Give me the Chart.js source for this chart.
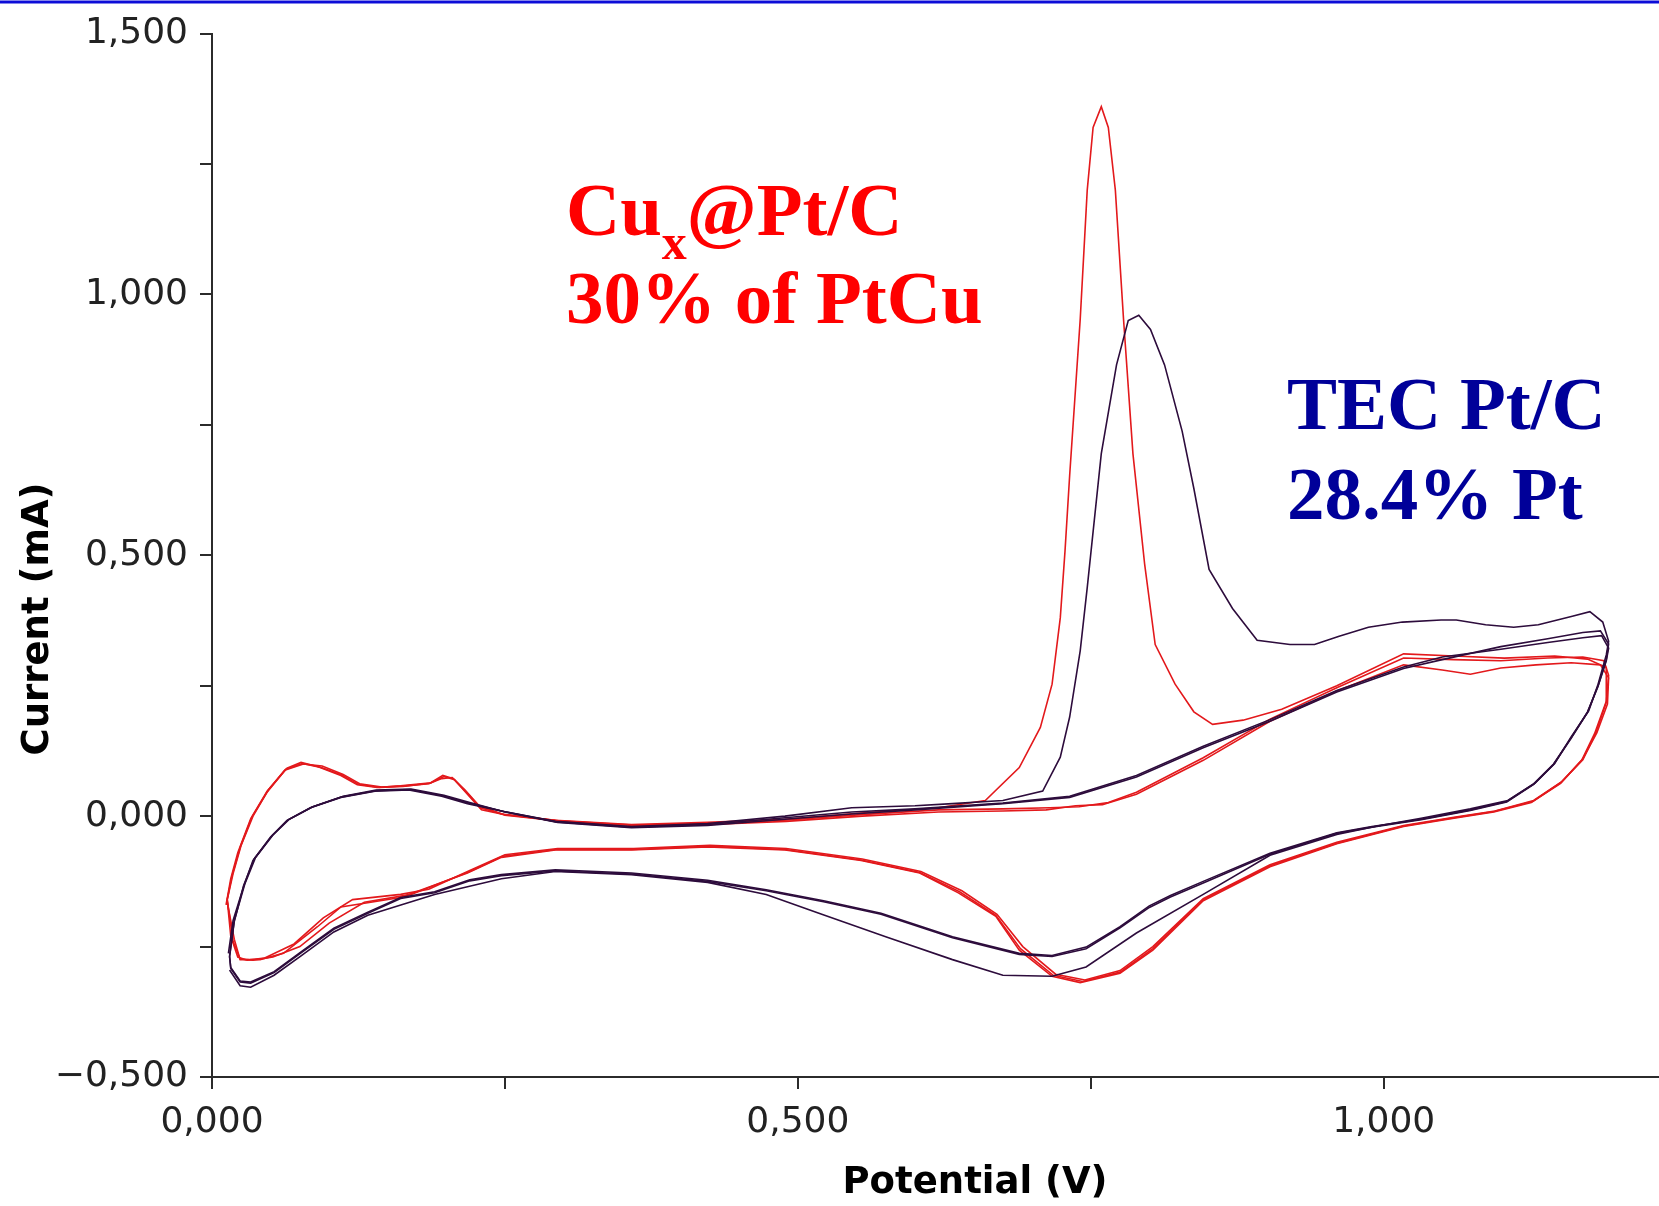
<!DOCTYPE html>
<html>
<head>
<meta charset="utf-8">
<title>CV Cu@Pt/C vs TEC Pt/C</title>
<script src="https://cdn.jsdelivr.net/npm/chart.js@4.4.1/dist/chart.umd.min.js"></script>
<style>
  html, body { margin: 0; padding: 0; background: #fff; }
  #wrap { position: relative; width: 1659px; height: 1206px; }
</style>
</head>
<body>
<div id="wrap"><canvas id="cvChart"></canvas></div>
<script>
// Axis labels
const xLabelValues = [0, 0.5, 1.0];
const xLabelTexts = ['0,000', '0,500', '1,000'];
const yLabelValues = [-0.5, 0, 0.5, 1.0, 1.5];
const yLabelTexts = ['\u22120,500', '0,000', '0,500', '1,000', '1,500'];

// Cu@Pt/C, [potential V, current mA] - first cycle shows the Cu stripping peak
const cuCycle1 = [
  [0.012,-0.170],[0.016,-0.120],[0.022,-0.070],[0.033,-0.005],[0.047,0.048],[0.064,0.092],
  [0.076,0.103],[0.090,0.095],[0.110,0.078],[0.124,0.060],[0.141,0.055],[0.161,0.058],
  [0.187,0.064],[0.198,0.076],[0.207,0.070],[0.218,0.042],[0.230,0.012],[0.247,0.004],
  [0.293,-0.008],[0.358,-0.016],[0.423,-0.012],[0.489,-0.006],[0.554,0.006],[0.620,0.016],
  [0.660,0.030],[0.689,0.093],[0.707,0.170],[0.717,0.253],[0.724,0.380],[0.728,0.507],
  [0.732,0.653],[0.741,0.952],[0.747,1.200],[0.752,1.320],[0.759,1.360],[0.765,1.320],
  [0.771,1.200],[0.778,0.952],[0.786,0.695],[0.796,0.483],[0.805,0.329],[0.822,0.253],
  [0.838,0.200],[0.854,0.176],[0.880,0.184],[0.913,0.205],[0.960,0.250],[1.017,0.311],
  [1.060,0.307],[1.103,0.303],[1.146,0.307],[1.174,0.301],[1.190,0.285],
  [1.190,0.220],[1.180,0.158],[1.169,0.107],[1.151,0.063],[1.126,0.026],[1.094,0.008],
  [1.060,-0.004],[1.017,-0.020],[0.960,-0.053],[0.903,-0.097],[0.846,-0.162],[0.803,-0.257],
  [0.775,-0.301],[0.741,-0.319],[0.717,-0.307],[0.689,-0.257],[0.669,-0.192],[0.637,-0.147],
  [0.604,-0.109],[0.554,-0.085],[0.489,-0.065],[0.423,-0.059],[0.358,-0.065],[0.293,-0.065],
  [0.247,-0.079],[0.218,-0.109],[0.161,-0.156],[0.110,-0.174],[0.090,-0.212],[0.061,-0.263],
  [0.041,-0.275],[0.024,-0.275],[0.019,-0.236],[0.013,-0.165]
];
const cuCycle2 = [
  [0.013,-0.160],[0.018,-0.110],[0.025,-0.055],[0.035,0.000],[0.048,0.050],[0.062,0.088],
  [0.078,0.100],[0.094,0.096],[0.112,0.080],[0.126,0.062],[0.145,0.056],[0.165,0.058],
  [0.185,0.062],[0.196,0.072],[0.205,0.074],[0.216,0.050],[0.228,0.020],[0.250,0.002],
  [0.300,-0.010],[0.360,-0.018],[0.425,-0.016],[0.490,-0.010],[0.555,0.000],[0.620,0.008],
  [0.675,0.010],[0.712,0.012],[0.737,0.020],[0.760,0.022],[0.789,0.042],[0.846,0.107],
  [0.903,0.182],[0.960,0.240],[1.017,0.290],[1.050,0.280],[1.074,0.272],[1.100,0.284],
  [1.130,0.290],[1.160,0.294],[1.185,0.290],[1.192,0.265],
  [1.191,0.215],[1.182,0.160],[1.170,0.110],[1.152,0.066],[1.128,0.030],[1.095,0.010],
  [1.060,-0.002],[1.017,-0.018],[0.960,-0.050],[0.903,-0.093],[0.846,-0.158],[0.803,-0.250],
  [0.775,-0.296],[0.745,-0.314],[0.720,-0.303],[0.692,-0.250],[0.670,-0.188],[0.640,-0.143],
  [0.605,-0.106],[0.555,-0.082],[0.490,-0.062],[0.425,-0.056],[0.360,-0.062],[0.295,-0.062],
  [0.250,-0.074],[0.220,-0.104],[0.185,-0.140],[0.161,-0.150],[0.120,-0.160],[0.095,-0.195],
  [0.070,-0.245],[0.045,-0.272],[0.030,-0.276],[0.022,-0.270],[0.016,-0.230],[0.013,-0.160]
];
const cuCycle3 = [
  [0.013,-0.160],[0.017,-0.115],[0.024,-0.060],[0.034,-0.002],[0.047,0.046],[0.063,0.090],
  [0.077,0.101],[0.092,0.094],[0.111,0.079],[0.125,0.061],[0.143,0.055],[0.163,0.057],
  [0.186,0.063],[0.197,0.078],[0.206,0.072],[0.217,0.046],[0.229,0.016],[0.249,0.003],
  [0.296,-0.009],[0.359,-0.017],[0.424,-0.014],[0.489,-0.008],[0.554,0.003],[0.620,0.012],
  [0.675,0.014],[0.715,0.016],[0.740,0.018],[0.765,0.026],[0.789,0.046],[0.846,0.112],
  [0.903,0.186],[0.960,0.246],[1.017,0.303],[1.060,0.300],[1.100,0.298],[1.140,0.303],
  [1.170,0.305],[1.188,0.298],[1.192,0.270],
  [1.190,0.218],[1.181,0.159],[1.170,0.108],[1.151,0.064],[1.127,0.028],[1.094,0.009],
  [1.060,-0.003],[1.017,-0.019],[0.960,-0.052],[0.903,-0.095],[0.846,-0.160],[0.803,-0.254],
  [0.775,-0.299],[0.743,-0.317],[0.718,-0.305],[0.690,-0.254],[0.669,-0.190],[0.638,-0.145],
  [0.604,-0.108],[0.554,-0.084],[0.489,-0.064],[0.424,-0.058],[0.359,-0.064],[0.294,-0.064],
  [0.248,-0.077],[0.219,-0.107],[0.170,-0.150],[0.130,-0.165],[0.100,-0.205],[0.075,-0.250],
  [0.052,-0.270],[0.035,-0.276],[0.024,-0.274],[0.018,-0.240],[0.013,-0.160]
];

// TEC Pt/C, first cycle has the broader peak
const tecCycle1 = [
  [0.014,-0.263],[0.018,-0.200],[0.027,-0.135],[0.035,-0.085],[0.050,-0.040],[0.064,-0.008],
  [0.084,0.016],[0.110,0.036],[0.139,0.048],[0.168,0.050],[0.196,0.038],[0.218,0.024],
  [0.247,0.010],[0.293,-0.010],[0.358,-0.020],[0.423,-0.014],[0.489,0.000],[0.546,0.016],
  [0.600,0.020],[0.632,0.024],[0.675,0.030],[0.709,0.048],[0.724,0.113],[0.732,0.190],
  [0.741,0.317],[0.747,0.438],[0.759,0.695],[0.772,0.865],[0.782,0.950],[0.791,0.960],
  [0.801,0.933],[0.813,0.865],[0.828,0.738],[0.838,0.628],[0.851,0.473],[0.871,0.398],
  [0.892,0.337],[0.920,0.329],[0.941,0.329],[0.962,0.345],[0.987,0.362],[1.016,0.372],
  [1.049,0.376],[1.062,0.376],[1.087,0.367],[1.111,0.362],[1.132,0.367],[1.161,0.383],
  [1.176,0.392],[1.187,0.372],[1.192,0.335],
  [1.190,0.309],[1.183,0.253],[1.175,0.202],[1.160,0.152],[1.146,0.101],[1.129,0.063],
  [1.106,0.030],[1.074,0.014],[1.032,-0.004],[0.997,-0.018],[0.960,-0.035],[0.903,-0.075],
  [0.846,-0.150],[0.789,-0.224],[0.746,-0.289],[0.717,-0.307],[0.675,-0.305],[0.632,-0.275],
  [0.575,-0.231],[0.518,-0.186],[0.473,-0.150],[0.423,-0.127],[0.358,-0.112],[0.293,-0.106],
  [0.247,-0.120],[0.190,-0.150],[0.133,-0.190],[0.104,-0.222],[0.076,-0.268],[0.053,-0.305],
  [0.033,-0.328],[0.024,-0.325],[0.015,-0.295]
];
const tecCycle2 = [
  [0.015,-0.270],[0.019,-0.200],[0.028,-0.130],[0.037,-0.080],[0.052,-0.036],[0.066,-0.006],
  [0.086,0.018],[0.112,0.038],[0.140,0.050],[0.170,0.052],[0.198,0.040],[0.220,0.026],
  [0.250,0.008],[0.295,-0.012],[0.358,-0.022],[0.423,-0.018],[0.489,-0.006],[0.546,0.004],
  [0.600,0.012],[0.675,0.024],[0.732,0.036],[0.789,0.075],[0.846,0.131],[0.903,0.182],
  [0.960,0.238],[1.017,0.283],[1.050,0.300],[1.100,0.325],[1.140,0.340],[1.170,0.352],
  [1.185,0.355],[1.192,0.330],
  [1.190,0.300],[1.183,0.250],[1.174,0.200],[1.160,0.150],[1.145,0.100],[1.128,0.062],
  [1.105,0.028],[1.074,0.012],[1.032,-0.006],[0.990,-0.020],[0.960,-0.032],[0.903,-0.071],
  [0.846,-0.125],[0.818,-0.152],[0.800,-0.172],[0.775,-0.212],[0.746,-0.251],[0.717,-0.267],
  [0.689,-0.263],[0.632,-0.231],[0.571,-0.186],[0.522,-0.162],[0.473,-0.141],[0.423,-0.123],
  [0.358,-0.109],[0.293,-0.103],[0.247,-0.112],[0.220,-0.122],[0.190,-0.145],[0.161,-0.156],
  [0.133,-0.184],[0.104,-0.215],[0.076,-0.260],[0.053,-0.298],[0.033,-0.318],[0.024,-0.316],
  [0.016,-0.290],[0.015,-0.270]
];
const tecCycle3 = [
  [0.015,-0.268],[0.019,-0.202],[0.027,-0.133],[0.036,-0.082],[0.051,-0.038],[0.065,-0.007],
  [0.085,0.017],[0.111,0.037],[0.141,0.049],[0.169,0.051],[0.197,0.039],[0.219,0.025],
  [0.249,0.009],[0.294,-0.011],[0.358,-0.021],[0.423,-0.016],[0.489,-0.003],[0.546,0.008],
  [0.600,0.014],[0.675,0.025],[0.732,0.038],[0.789,0.078],[0.846,0.134],[0.903,0.185],
  [0.960,0.241],[1.017,0.286],[1.050,0.305],[1.100,0.320],[1.140,0.333],[1.170,0.342],
  [1.186,0.346],[1.192,0.322],
  [1.190,0.298],[1.183,0.249],[1.174,0.199],[1.160,0.149],[1.145,0.099],[1.128,0.061],
  [1.105,0.027],[1.074,0.011],[1.032,-0.007],[0.990,-0.021],[0.960,-0.033],[0.903,-0.073],
  [0.846,-0.128],[0.818,-0.155],[0.800,-0.175],[0.775,-0.214],[0.746,-0.254],[0.717,-0.269],
  [0.689,-0.265],[0.632,-0.233],[0.571,-0.188],[0.522,-0.164],[0.473,-0.143],[0.423,-0.125],
  [0.358,-0.111],[0.293,-0.105],[0.247,-0.114],[0.220,-0.124],[0.190,-0.147],[0.161,-0.158],
  [0.133,-0.186],[0.104,-0.217],[0.076,-0.262],[0.053,-0.300],[0.033,-0.320],[0.024,-0.318],
  [0.016,-0.292],[0.015,-0.268]
];

const cuColor = '#e3191c';
const tecColor = '#2d0c3c';

function toPoints(arr) {
  return arr.map(p => ({ x: p[0], y: p[1] }));
}

function cycle(label, arr, color) {
  return {
    label: label,
    data: toPoints(arr),
    borderColor: color,
    borderWidth: 1.6,
    showLine: true,
    pointRadius: 0,
    tension: 0,
    fill: false
  };
}

function tickText(values, texts, value) {
  const i = values.findIndex(v => Math.abs(v - value) < 1e-6);
  return i >= 0 ? texts[i] : '';
}

// titles, annotations and the blue rule at the top
const overlay = {
  id: 'overlay',
  afterDraw(chart) {
    const ctx = chart.ctx;
    ctx.save();
    ctx.strokeStyle = '#0c0cd8';
    ctx.lineWidth = 3;
    ctx.beginPath();
    ctx.moveTo(0, 2);
    ctx.lineTo(chart.width, 2);
    ctx.stroke();

    ctx.fillStyle = '#000';
    ctx.font = 'bold 37px "DejaVu Sans"';
    ctx.textAlign = 'center';
    ctx.textBaseline = 'middle';
    ctx.fillText('Potential (V)', 975, 1183);
    ctx.save();
    ctx.translate(38, 619);
    ctx.rotate(-Math.PI / 2);
    ctx.fillText('Current (mA)', 0, 0);
    ctx.restore();

    ctx.textAlign = 'left';
    ctx.textBaseline = 'alphabetic';
    ctx.fillStyle = '#ff0000';
    ctx.font = 'bold 75px "Liberation Serif"';
    ctx.fillText('Cu', 566, 235);
    let w = ctx.measureText('Cu').width;
    ctx.font = 'bold 50px "Liberation Serif"';
    ctx.fillText('x', 566 + w, 259);
    w += ctx.measureText('x').width;
    ctx.font = 'bold 75px "Liberation Serif"';
    ctx.fillText('@Pt/C', 566 + w, 235);
    ctx.fillText('30% of PtCu', 566, 323);

    ctx.fillStyle = '#000099';
    ctx.fillText('TEC Pt/C', 1287, 429);
    ctx.fillText('28.4% Pt', 1287, 519);
    ctx.restore();
  }
};

const axisColor = '#2b2b2b';

const ctx = document.getElementById('cvChart').getContext('2d');
const cvChart = new Chart(ctx, {
  type: 'scatter',
  data: {
    datasets: [
      cycle('TEC Pt/C cycle 3', tecCycle3, tecColor),
      cycle('TEC Pt/C cycle 2', tecCycle2, tecColor),
      cycle('TEC Pt/C cycle 1', tecCycle1, tecColor),
      cycle('Cu@Pt/C cycle 3', cuCycle3, cuColor),
      cycle('Cu@Pt/C cycle 2', cuCycle2, cuColor),
      cycle('Cu@Pt/C cycle 1', cuCycle1, cuColor)
    ]
  },
  options: {
    responsive: true,
    maintainAspectRatio: false,
    animation: false,
    layout: { padding: { top: 30, right: 0, bottom: 0, left: 0 } },
    plugins: {
      legend: { display: false },
      tooltip: { enabled: false }
    },
    scales: {
      x: {
        type: 'linear',
        min: 0,
        max: 1.235,
        afterBuildTicks: (scale) => {
          scale.ticks = scale.ticks.filter(t => Math.abs(t.value * 4 - Math.round(t.value * 4)) < 1e-6);
        },
        afterFit: (scale) => { scale.height = 129; },
        ticks: {
          stepSize: 0.25,
          padding: 12,
          color: '#222',
          font: { family: 'DejaVu Sans', size: 36 },
          maxRotation: 0,
          autoSkip: false,
          callback: (value) => tickText(xLabelValues, xLabelTexts, value)
        },
        grid: { drawOnChartArea: false, drawTicks: true, tickLength: 12, color: axisColor, lineWidth: 2 },
        border: { display: true, color: axisColor, width: 2 }
      },
      y: {
        type: 'linear',
        min: -0.5,
        max: 1.5,
        afterFit: (scale) => { scale.width = 212; },
        ticks: {
          stepSize: 0.25,
          padding: 12,
          color: '#222',
          font: { family: 'DejaVu Sans', size: 36 },
          autoSkip: false,
          callback: (value) => tickText(yLabelValues, yLabelTexts, value)
        },
        grid: { drawOnChartArea: false, drawTicks: true, tickLength: 12, color: axisColor, lineWidth: 2 },
        border: { display: true, color: axisColor, width: 2 }
      }
    }
  },
  plugins: [overlay]
});
</script>
</body>
</html>
